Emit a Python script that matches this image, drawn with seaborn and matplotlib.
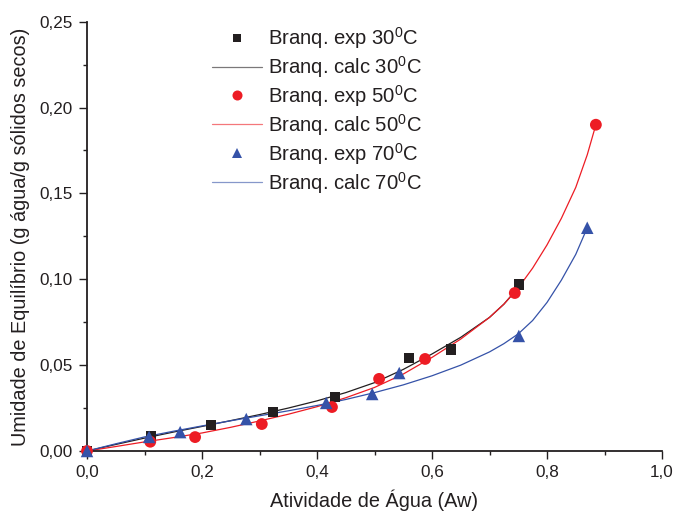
import matplotlib
matplotlib.use("Agg")
import matplotlib.pyplot as plt
from matplotlib.ticker import MultipleLocator, FuncFormatter
from matplotlib.lines import Line2D
import seaborn as sns
import pandas as pd

# Experimental sorption points (water activity, equilibrium moisture)
aw_exp_30 = [0.0, 0.111, 0.216, 0.323, 0.431, 0.560, 0.633, 0.751]
m_exp_30 = [0.0, 0.0087, 0.0151, 0.0227, 0.0316, 0.054, 0.059, 0.097]

aw_exp_50 = [0.0, 0.110, 0.188, 0.304, 0.426, 0.508, 0.588, 0.744, 0.885]
m_exp_50 = [0.0, 0.0054, 0.0081, 0.0157, 0.0256, 0.042, 0.0536, 0.092, 0.190]

aw_exp_70 = [0.0, 0.108, 0.162, 0.277, 0.416, 0.496, 0.543, 0.751, 0.870]
m_exp_70 = [0.0, 0.0082, 0.011, 0.0186, 0.028, 0.0332, 0.0454, 0.067, 0.130]

# Model (calculated) isotherms
aw_calc_30 = [0.0, 0.05, 0.1, 0.15, 0.2, 0.25, 0.3, 0.35, 0.4, 0.45, 0.5,
              0.55, 0.6, 0.65, 0.7, 0.725, 0.751]
m_calc_30 = [0.0, 0.0038, 0.0075, 0.0110, 0.0143, 0.0177, 0.0212, 0.0250,
             0.0292, 0.0340, 0.0398, 0.0475, 0.0565, 0.0662, 0.0778, 0.0855, 0.0955]

aw_calc_50 = [0.0, 0.05, 0.1, 0.15, 0.2, 0.25, 0.3, 0.35, 0.4, 0.45, 0.5,
              0.55, 0.6, 0.65, 0.7, 0.725, 0.75, 0.775, 0.8, 0.825, 0.85,
              0.87, 0.885]
m_calc_50 = [0.0, 0.0026, 0.0053, 0.0078, 0.0105, 0.0138, 0.0175, 0.0214,
             0.0258, 0.0310, 0.0370, 0.0448, 0.0545, 0.0652, 0.0778, 0.0855,
             0.0950, 0.1065, 0.1200, 0.1355, 0.1535, 0.1725, 0.1900]

aw_calc_70 = [0.0, 0.05, 0.1, 0.15, 0.2, 0.25, 0.3, 0.35, 0.4, 0.45, 0.5,
              0.55, 0.6, 0.65, 0.7, 0.725, 0.75, 0.775, 0.8, 0.825, 0.85, 0.87]
m_calc_70 = [0.0, 0.0042, 0.0082, 0.0115, 0.0146, 0.0176, 0.0205, 0.0234,
             0.0265, 0.0300, 0.0340, 0.0385, 0.0438, 0.0500, 0.0577, 0.0625,
             0.0682, 0.0760, 0.0865, 0.0995, 0.1145, 0.1300]

labels = ["Branq. exp 30$^0$C", "Branq. calc 30$^0$C",
          "Branq. exp 50$^0$C", "Branq. calc 50$^0$C",
          "Branq. exp 70$^0$C", "Branq. calc 70$^0$C"]

x_label = "Atividade de Água (Aw)"
y_label = "Umidade de Equilíbrio (g água/g sólidos secos)"

BLACK = "#231f20"
RED = "#ed1c24"
BLUE = "#3552a8"

sns.set_style("ticks")
plt.rcParams["font.family"] = ["Liberation Sans", "DejaVu Sans"]
plt.rcParams["mathtext.fontset"] = "custom"
plt.rcParams["mathtext.rm"] = "Liberation Sans"
plt.rcParams["mathtext.it"] = "Liberation Sans"

fig = plt.figure(figsize=(6.75, 5.13), dpi=100)
ax = fig.add_axes([87 / 675, 62 / 513, 575 / 675, (451 - 21.7) / 513])

series = [
    (aw_exp_30, m_exp_30, aw_calc_30, m_calc_30, BLACK, "s", 7.5),
    (aw_exp_50, m_exp_50, aw_calc_50, m_calc_50, RED, "o", 8.5),
    (aw_exp_70, m_exp_70, aw_calc_70, m_calc_70, BLUE, "^", 9.0),
]

handles = []
for xe, ye, xc, yc, col, mk, ms in series:
    calc = pd.DataFrame({"aw": xc, "m": yc})
    sns.lineplot(data=calc, x="aw", y="m", ax=ax, color=col, lw=0.9,
                 sort=False, estimator=None, zorder=2)
    exp = pd.DataFrame({"aw": xe, "m": ye})
    sns.scatterplot(data=exp, x="aw", y="m", ax=ax, color=col, marker=mk,
                    s=ms ** 2, edgecolor="none", zorder=3, clip_on=False)
    handles.append(Line2D([], [], ls="none", marker=mk, color=col,
                          markersize=ms * 0.85, markeredgewidth=0))
    handles.append(Line2D([], [], color=col, lw=0.9, alpha=0.6))

ax.set_xlim(0, 1.0)
ax.set_ylim(0, 0.25)
ax.xaxis.set_major_locator(MultipleLocator(0.2))
ax.xaxis.set_minor_locator(MultipleLocator(0.1))
ax.yaxis.set_major_locator(MultipleLocator(0.05))
ax.yaxis.set_minor_locator(MultipleLocator(0.025))
ax.xaxis.set_major_formatter(FuncFormatter(lambda v, p: f"{v:.1f}".replace(".", ",")))
ax.yaxis.set_major_formatter(FuncFormatter(lambda v, p: f"{v:.2f}".replace(".", ",")))

ax.tick_params(which="major", direction="out", length=6, width=1.0,
               color=BLACK, labelsize=12.3, labelcolor=BLACK, pad=4)
ax.tick_params(which="minor", direction="out", length=3, width=1.0, color=BLACK)

sns.despine(ax=ax)
for sp in ("left", "bottom"):
    ax.spines[sp].set_linewidth(1.3)
    ax.spines[sp].set_color(BLACK)

ax.set_xlabel(x_label, fontsize=14.3, color=BLACK, labelpad=7)
ax.set_ylabel(y_label, fontsize=14.3, color=BLACK, labelpad=7)

leg = ax.legend(handles, labels, loc="upper left",
                bbox_to_anchor=(212 / 675, 1 - 25 / 513),
                bbox_transform=fig.transFigure, frameon=False,
                fontsize=14.6, handlelength=2.46, handletextpad=0.3,
                labelspacing=0.15, borderpad=0, borderaxespad=0)
for t in leg.get_texts():
    t.set_color(BLACK)

fig.savefig("out.png", dpi=100)
